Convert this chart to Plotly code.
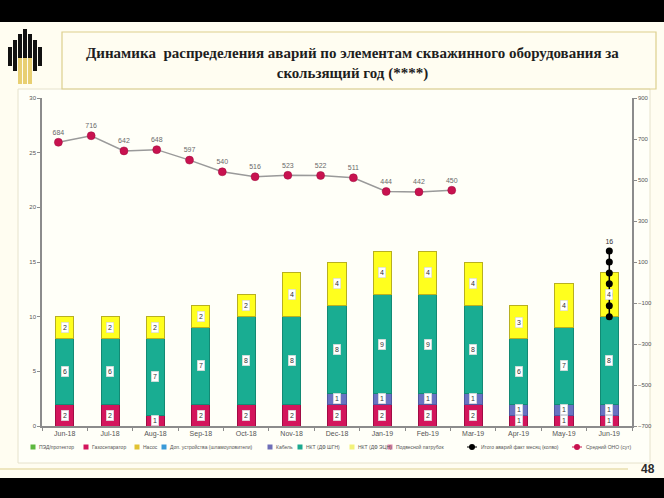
import plotly.graph_objects as go

# ---------------- data ----------------
categories = ["Jun-18", "Jul-18", "Aug-18", "Sep-18", "Oct-18", "Nov-18", "Dec-18",
              "Jan-19", "Feb-19", "Mar-19", "Apr-19", "May-19", "Jun-19"]
gazoseparator = [2, 2, 1, 2, 2, 2, 2, 2, 2, 2, 1, 1, 1]
kabel = [0, 0, 0, 0, 0, 0, 1, 1, 1, 1, 1, 1, 1]
nkt_shgn = [6, 6, 7, 7, 8, 8, 8, 9, 9, 8, 6, 7, 8]
nkt_ecn = [2, 2, 2, 2, 2, 4, 4, 4, 4, 4, 3, 4, 4]
ono_values = [684, 716, 642, 648, 597, 540, 516, 523, 522, 511, 444, 442, 450]
itogo_values = [16, 15, 14, 13, 12, 11, 10]
itogo_category = "Jun-19"

left_ticks = [0, 5, 10, 15, 20, 25, 30]
right_ticks = [900, 700, 500, 300, 100, -100, -300, -500, -700]

title_text = ("<b>Динамика  распределения аварий по элементам скважинного оборудования за"
              "<br>скользящий год (****)</b>")

legend_names = ["ПЭД/протектор", "Газосепаратор", "Насос", "Доп. устройства (шламоуловители)",
                "Кабель", "НКТ (ДФ ШГН)", "НКТ (ДФ ЭЦН)", "Подвесной патрубок",
                "Итого аварий факт месяц (колво)", "Средний ОНО (сут)"]

# ---------------- layout constants ----------------
W, H = 664, 498
ML, MR, MT, MB = 42, 32, 98, 72
PW, PH = W - ML - MR, H - MT - MB


def px(x):
    return (x - ML) / PW


def py(y):
    return (H - MB - y) / PH


C_GAZ = "#D3155C"
C_KAB = "#6873C2"
C_SHGN = "#19AD92"
C_ECN = "#FFFF1E"
C_ONO = "#C8124F"
AX = "#8C8C8C"
TXT = "#555555"

legend_colors = ["#5DB83E", C_GAZ, "#E1C232", "#3A9AD8", "#6E6EB8", "#1BA98F",
                 "#F2F27A", "#E483A6", "#000000", C_ONO]
legend_symbols = ["sq"] * 8 + ["dot", "dot"]
legend_x = [33, 86, 137, 164, 270, 300, 352, 390, 472, 577]

fig = go.Figure()

series = [
    (gazoseparator, C_GAZ, "#A00C44"),
    (kabel, C_KAB, "#4F58A0"),
    (nkt_shgn, C_SHGN, "#128A74"),
    (nkt_ecn, C_ECN, "#B8B020"),
]
for vals, col, lcol in series:
    fig.add_trace(go.Bar(
        x=categories, y=vals, marker=dict(color=col, line=dict(color=lcol, width=1)),
        showlegend=False, hoverinfo="skip"))

# line: average ONO on secondary axes
fig.add_trace(go.Scatter(
    x=list(range(len(ono_values))), y=ono_values, xaxis="x2", yaxis="y2",
    mode="lines+markers+text", text=[str(v) for v in ono_values],
    textposition="top center", textfont=dict(size=7, color="#6A6A6A", family="Liberation Sans"),
    line=dict(color="#9A9A9A", width=1.5),
    marker=dict(color=C_ONO, size=8, line=dict(color="#9E0C3E", width=0.5)),
    showlegend=False, hoverinfo="skip"))

# total points
fig.add_trace(go.Scatter(
    x=[itogo_category] * len(itogo_values), y=itogo_values,
    mode="lines+markers+text",
    text=[str(itogo_values[0])] + [""] * (len(itogo_values) - 1),
    textposition="top center", textfont=dict(size=7, color="#333333", family="Liberation Sans"),
    line=dict(color="#000000", width=1.5),
    marker=dict(color="#000000", size=7),
    showlegend=False, hoverinfo="skip"))

annotations = []
# bar segment labels
for i, cat in enumerate(categories):
    base = 0
    for vals, _, _ in series:
        v = vals[i]
        if v:
            annotations.append(dict(
                x=cat, y=base + v / 2, xref="x", yref="y", text=str(v), showarrow=False,
                font=dict(size=7, color="#333333", family="Liberation Sans"),
                bgcolor="#FFFFFF", bordercolor="#D0D0D0", borderwidth=0.5, borderpad=1.5))
        base += v

# title
annotations.append(dict(
    x=px(352), y=py(64), xref="paper", yref="paper", text=title_text, showarrow=False,
    font=dict(size=15, color="#1E1E1E", family="Liberation Serif, Times New Roman, serif"),
    xanchor="center", yanchor="middle", align="center"))
# page number
annotations.append(dict(
    x=px(648), y=py(469), xref="paper", yref="paper", text="<b>48</b>", showarrow=False,
    font=dict(size=12, color="#2A2A2A", family="Liberation Sans"),
    xanchor="center", yanchor="middle"))

shapes = []
# chart panel
shapes.append(dict(type="rect", xref="paper", yref="paper", x0=px(18), x1=px(650), y0=py(89), y1=py(463),
                   fillcolor="#FFFFF8", line=dict(color="#E6E2CC", width=1), layer="below"))
# black bands
shapes.append(dict(type="rect", xref="paper", yref="paper", x0=px(-2), x1=px(W + 2), y0=py(-2), y1=py(22),
                   fillcolor="#000000", line=dict(width=0)))
shapes.append(dict(type="rect", xref="paper", yref="paper", x0=px(-2), x1=px(W + 2), y0=py(478), y1=py(H + 2),
                   fillcolor="#000000", line=dict(width=0)))
# title box
shapes.append(dict(type="rect", xref="paper", yref="paper", x0=px(62), x1=px(656), y0=py(32), y1=py(89),
                   fillcolor="rgba(0,0,0,0)", line=dict(color="#DDD08E", width=1.2)))
# bottom line
shapes.append(dict(type="line", xref="paper", yref="paper", x0=px(0), x1=px(628), y0=py(469), y1=py(469),
                   line=dict(color="#DDD08E", width=1.2)))

# logo (Rosneft-like)
logo_black = [(8, 12, 47, 66), (13, 17, 40, 71), (18, 22, 34, 60), (23, 27, 29, 60),
               (28, 32, 34, 60), (33, 37, 40, 71), (38, 42, 47, 66)]
for x0, x1, y0, y1 in logo_black:
    shapes.append(dict(type="rect", xref="paper", yref="paper", x0=px(x0), x1=px(x1), y0=py(y0), y1=py(y1),
                       fillcolor="#111111", line=dict(width=0)))
for x0, x1 in [(18, 22), (23, 27), (28, 32)]:
    shapes.append(dict(type="rect", xref="paper", yref="paper", x0=px(x0), x1=px(x1), y0=py(58), y1=py(84),
                       fillcolor="#E8CF72", line=dict(width=0)))

# manual legend
leg_y = 447
for name, col, sym, lx in zip(legend_names, legend_colors, legend_symbols, legend_x):
    if sym == "sq":
        shapes.append(dict(type="rect", xref="paper", yref="paper", x0=px(lx - 2.5), x1=px(lx + 2.5),
                           y0=py(leg_y - 2.5), y1=py(leg_y + 2.5), fillcolor=col, line=dict(width=0)))
    else:
        shapes.append(dict(type="line", xref="paper", yref="paper", x0=px(lx - 5), x1=px(lx + 5),
                           y0=py(leg_y), y1=py(leg_y), line=dict(color=col, width=1)))
        shapes.append(dict(type="circle", xref="paper", yref="paper", x0=px(lx - 3), x1=px(lx + 3),
                           y0=py(leg_y - 3), y1=py(leg_y + 3), fillcolor=col, line=dict(width=0)))
    annotations.append(dict(
        x=px(lx + (4 if sym == "sq" else 7)), y=py(leg_y), xref="paper", yref="paper", text=name,
        showarrow=False, xanchor="left", yanchor="middle",
        font=dict(size=5, color=TXT, family="Liberation Sans")))

fig.update_layout(
    width=W, height=H,
    margin=dict(l=ML, r=MR, t=MT, b=MB),
    paper_bgcolor="#FFFDF1", plot_bgcolor="rgba(0,0,0,0)",
    barmode="stack", bargap=0.6,
    showlegend=False,
    font=dict(family="Liberation Sans", size=7, color=TXT),
    xaxis=dict(type="category", categoryorder="array", categoryarray=categories,
               range=[-0.5, len(categories) - 0.5],
               showline=True, linecolor=AX, linewidth=1.5, showgrid=False,
               ticks="outside", tickson="boundaries", ticklen=3, tickcolor=AX,
               tickfont=dict(size=7, color=TXT), zeroline=False),
    xaxis2=dict(overlaying="x", range=[-0.5, 17.5], visible=False, showgrid=False),
    yaxis=dict(range=[0, 30], tickvals=left_ticks, showline=True, linecolor=AX, linewidth=1.5,
               showgrid=False, ticks="outside", ticklen=3, tickcolor=AX, zeroline=False,
               tickfont=dict(size=6, color=TXT)),
    yaxis2=dict(overlaying="y", side="right", anchor="x", range=[-700, 900], tickvals=right_ticks,
                showline=True, linecolor=AX, linewidth=1.5, showgrid=False, ticks="outside",
                ticklen=3, tickcolor=AX, zeroline=False, tickfont=dict(size=6, color=TXT)),
    shapes=shapes, annotations=annotations,
)

fig.write_html("out.html", config={"displayModeBar": False},
               post_script="document.body.style.margin='0';")
